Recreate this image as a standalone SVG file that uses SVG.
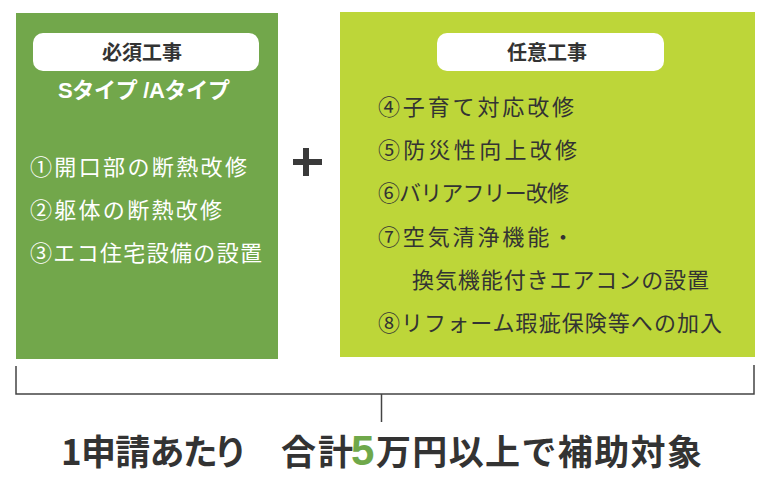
<svg xmlns="http://www.w3.org/2000/svg" width="768" height="486" viewBox="0 0 768 486">
<style>
.item{font-family:"Noto Sans CJK JP","Noto Sans",sans-serif;font-size:22px;font-weight:400}
.lw{fill:#ffffff}
.ld{fill:#333333}
.pill{fill:#ffffff}
.ptxt{font-family:"Noto Sans CJK JP","Noto Sans",sans-serif;font-size:20px;font-weight:700;fill:#333333;text-anchor:middle}
.big{font-family:"Noto Sans CJK JP","Noto Sans",sans-serif;font-size:35px;font-weight:700;fill:#333333}
.br{stroke:#444444;stroke-width:1.5;fill:none}
</style>
<rect width="768" height="486" fill="#ffffff"/>
<g id="required">
<rect x="16" y="13" width="262" height="346" fill="#72a74b"/>
<rect class="pill" x="33" y="33" width="226" height="38" rx="10"/>
<text class="ptxt" x="142" y="60">必須工事</text>
<text x="144" y="98" text-anchor="middle" font-family="'Liberation Sans','Noto Sans CJK JP',sans-serif" font-size="22" font-weight="700" fill="#ffffff" textLength="172">Sタイプ /Aタイプ</text>
<text class="item lw" x="30" y="175" textLength="217">①開口部の断熱改修</text>
<text class="item lw" x="30" y="218" textLength="192">②躯体の断熱改修</text>
<text class="item lw" x="30" y="261" textLength="232">③エコ住宅設備の設置</text>
</g>
<g id="plus">
<rect x="293" y="159" width="29" height="6" fill="#3a3a3a"/>
<rect x="303" y="148" width="6" height="28" fill="#3a3a3a"/>
</g>
<g id="optional">
<rect x="340" y="12" width="415" height="345" fill="#bdd639"/>
<rect class="pill" x="437" y="33" width="227" height="38" rx="10"/>
<text class="ptxt" x="547" y="60">任意工事</text>
<text class="item ld" x="378" y="115" textLength="196">④子育て対応改修</text>
<text class="item ld" x="378" y="158" textLength="199">⑤防災性向上改修</text>
<text class="item ld" x="378" y="201" textLength="191">⑥バリアフリー改修</text>
<text class="item ld" x="378" y="245" textLength="196">⑦空気清浄機能・</text>
<text class="item ld" x="412" y="288" textLength="297">換気機能付きエアコンの設置</text>
<text class="item ld" x="378" y="331" textLength="344">⑧リフォーム瑕疵保険等への加入</text>
</g>
<g id="connectors">
<polyline class="br" points="16,366 16,394 754,394 754,365"/>
<line class="br" x1="381.5" y1="394" x2="381.5" y2="422"/>
</g>
<g id="summary">
<text class="big" x="61" y="465" textLength="183" style="font-feature-settings:'palt'">1申請あたり</text>
<text class="big" x="281" y="465" textLength="72">合計</text>
<text x="351" y="465" font-family="'Liberation Sans',sans-serif" font-size="42" font-weight="700" fill="#6fa84a">5</text>
<text class="big" x="376" y="465" textLength="326">万円以上で補助対象</text>
</g>
</svg>
